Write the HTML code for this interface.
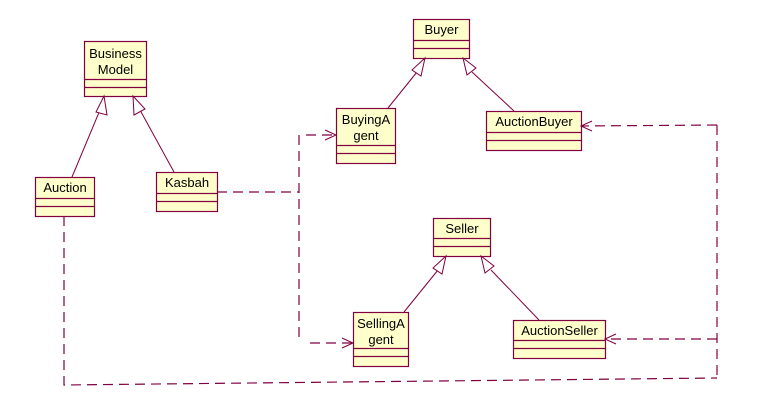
<!DOCTYPE html>
<html><head><meta charset="utf-8"><style>
html,body{margin:0;padding:0;background:#fff;width:762px;height:413px;overflow:hidden}
text{font-family:"Liberation Sans",sans-serif;font-size:13px;fill:#000}
</style></head><body>
<svg width="762" height="413" viewBox="0 0 762 413" xmlns="http://www.w3.org/2000/svg">
<g fill="#ffffcc" stroke="#800040" stroke-width="1.2">
<rect x="84.5" y="41.5" width="62" height="55"/><line x1="84.5" y1="79.5" x2="146.5" y2="79.5"/><line x1="84.5" y1="87.5" x2="146.5" y2="87.5"/>
<rect x="35.5" y="177.5" width="59" height="39"/><line x1="35.5" y1="198.5" x2="94.5" y2="198.5"/><line x1="35.5" y1="206.5" x2="94.5" y2="206.5"/>
<rect x="156.5" y="172.5" width="61" height="39"/><line x1="156.5" y1="193.5" x2="217.5" y2="193.5"/><line x1="156.5" y1="201.5" x2="217.5" y2="201.5"/>
<rect x="413.5" y="19.5" width="56" height="39"/><line x1="413.5" y1="40.5" x2="469.5" y2="40.5"/><line x1="413.5" y1="48.5" x2="469.5" y2="48.5"/>
<rect x="336.5" y="108.5" width="59" height="55"/><line x1="336.5" y1="145.5" x2="395.5" y2="145.5"/><line x1="336.5" y1="153.5" x2="395.5" y2="153.5"/>
<rect x="486.5" y="111.5" width="95" height="39"/><line x1="486.5" y1="132.5" x2="581.5" y2="132.5"/><line x1="486.5" y1="140.5" x2="581.5" y2="140.5"/>
<rect x="433.5" y="218.5" width="57" height="38"/><line x1="433.5" y1="238.5" x2="490.5" y2="238.5"/><line x1="433.5" y1="246.5" x2="490.5" y2="246.5"/>
<rect x="353.5" y="312.5" width="55" height="54"/><line x1="353.5" y1="348.5" x2="408.5" y2="348.5"/><line x1="353.5" y1="356.5" x2="408.5" y2="356.5"/>
<rect x="513.5" y="320.5" width="92" height="38"/><line x1="513.5" y1="340.5" x2="605.5" y2="340.5"/><line x1="513.5" y1="348.5" x2="605.5" y2="348.5"/>
</g>
<g text-anchor="middle">
<text x="115.5" y="58">Business</text><text x="115.5" y="74">Model</text>
<text x="65" y="192">Auction</text>
<text x="187" y="187">Kasbah</text>
<text x="441.5" y="34">Buyer</text>
<text x="366" y="124">BuyingA</text><text x="366" y="140">gent</text>
<text x="534" y="126">AuctionBuyer</text>
<text x="462" y="233">Seller</text>
<text x="381" y="328">SellingA</text><text x="381" y="344">gent</text>
<text x="559.5" y="335">AuctionSeller</text>
</g>
<g stroke="#800040" stroke-width="1" fill="none">
<line x1="72" y1="177" x2="100" y2="110"/>
<line x1="174" y1="172" x2="140" y2="110"/>
<line x1="388" y1="108" x2="417" y2="72"/>
<line x1="514" y1="111" x2="472" y2="72"/>
<line x1="404" y1="312" x2="438" y2="270"/>
<line x1="539" y1="320" x2="491" y2="270"/>
</g>
<g stroke="#800040" stroke-width="1" fill="#fff">
<polygon points="104,96 96,112 107,115"/>
<polygon points="133,96 134,115 145,109"/>
<polygon points="425,58 412,70 421,76"/>
<polygon points="463,58 467,75 476,68"/>
<polygon points="446,256 433,268 442,274"/>
<polygon points="481,256 485,273 494,266"/>
</g>
<g stroke="#800040" stroke-width="1.2" fill="none" stroke-dasharray="10,6">
<polyline points="217,192 299,192"/>
<polyline points="299,135 299,343"/>
<polyline points="306,135 336,135"/>
<polyline points="310,343 353,343"/>
<polyline points="717,125 717,378"/>
<polyline points="717,125 581,126"/>
<polyline points="717,339 605,339"/>
<polyline points="64,216 64,385 717,378"/>
</g>
<g stroke="#800040" stroke-width="1" fill="none">
<polyline points="325,130 336,135 325,140"/>
<polyline points="342,338 353,343 342,348"/>
<polyline points="592,121 581,126 592,131"/>
<polyline points="616,334 605,339 616,344"/>
</g>
</svg>
</body></html>
